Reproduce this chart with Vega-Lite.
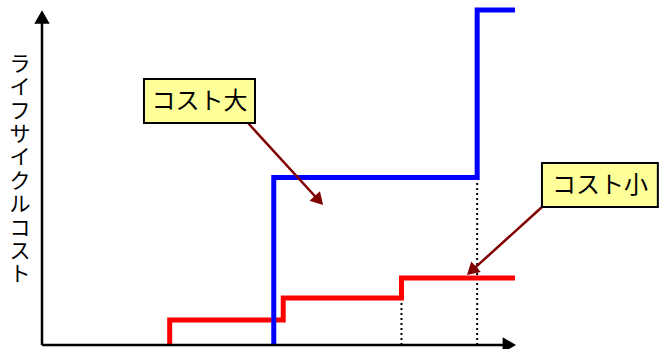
{
  "$schema": "https://vega.github.io/schema/vega-lite/v6.json",
  "width": 664,
  "height": 349,
  "padding": 0,
  "autosize": "none",
  "config": {"view": {"stroke": null}},
  "datasets": {
    "lines": [
      {"series": "コスト小", "i": 0, "t": 27, "c": 0},
      {"series": "コスト小", "i": 1, "t": 27, "c": 7.5},
      {"series": "コスト小", "i": 2, "t": 51, "c": 7.5},
      {"series": "コスト小", "i": 3, "t": 51, "c": 14},
      {"series": "コスト小", "i": 4, "t": 76, "c": 14},
      {"series": "コスト小", "i": 5, "t": 76, "c": 20},
      {"series": "コスト小", "i": 6, "t": 100, "c": 20},
      {"series": "コスト大", "i": 0, "t": 49, "c": 0},
      {"series": "コスト大", "i": 1, "t": 49, "c": 50},
      {"series": "コスト大", "i": 2, "t": 92, "c": 50},
      {"series": "コスト大", "i": 3, "t": 92, "c": 100},
      {"series": "コスト大", "i": 4, "t": 100, "c": 100}
    ],
    "dots": [
      {"t": 76, "c": 0, "c2": 13.3},
      {"t": 92, "c": 0, "c2": 49.5}
    ],
    "axes": [
      {"t": 0, "c": 0, "t2": 0, "c2": 97},
      {"t": 0, "c": 0, "t2": 98, "c2": 0}
    ],
    "axisHeads": [
      {"t": 0, "c": 97.9, "angle": 0},
      {"t": 98.8, "c": 0, "angle": 90}
    ],
    "arrows": [
      {"t": 43.55, "c": 66.27, "t2": 58.54, "c2": 43.14},
      {"t": 105.71, "c": 41.19, "t2": 90.8, "c2": 22.12}
    ],
    "arrowHeads": [
      {"t": 58.54, "c": 43.14, "angle": 137.6},
      {"t": 90.8, "c": 22.12, "angle": 227.8}
    ],
    "boxes": [
      {"label": "コスト大", "t": 21.56, "t2": 45.03, "c": 79.4, "c2": 66.27, "tx": 33.3, "ty": 72.6},
      {"label": "コスト小", "t": 105.7, "t2": 130.2, "c": 54.33, "c2": 41.19, "tx": 117.97, "ty": 47.6}
    ],
    "ylabel": [
      {"t": -4.65, "c": 86.9, "ch": "ラ"},
      {"t": -4.65, "c": 79.91, "ch": "イ"},
      {"t": -4.65, "c": 72.93, "ch": "フ"},
      {"t": -4.65, "c": 65.94, "ch": "サ"},
      {"t": -4.65, "c": 58.96, "ch": "イ"},
      {"t": -4.65, "c": 51.97, "ch": "ク"},
      {"t": -4.65, "c": 44.99, "ch": "ル"},
      {"t": -4.65, "c": 38.0, "ch": "コ"},
      {"t": -4.65, "c": 31.01, "ch": "ス"},
      {"t": -4.65, "c": 24.03, "ch": "ト"}
    ]
  },
  "layer": [
    {
      "data": {"name": "dots"},
      "mark": {"type": "rule", "color": "black", "strokeWidth": 2, "strokeDash": [2, 3]},
      "encoding": {
        "x": {"field": "t", "type": "quantitative", "axis": null, "scale": {"domain": [-8.879, 131.5], "nice": false, "zero": false}},
        "y": {"field": "c", "type": "quantitative", "axis": null, "scale": {"domain": [-1.194, 102.985], "nice": false, "zero": false}},
        "y2": {"field": "c2"}
      }
    },
    {
      "data": {"name": "lines"},
      "mark": {"type": "line", "strokeWidth": 5, "strokeJoin": "miter", "strokeCap": "butt"},
      "encoding": {
        "x": {"field": "t", "type": "quantitative", "axis": null, "scale": {"domain": [-8.879, 131.5], "nice": false, "zero": false}},
        "y": {"field": "c", "type": "quantitative", "axis": null, "scale": {"domain": [-1.194, 102.985], "nice": false, "zero": false}},
        "order": {"field": "i", "type": "quantitative"},
        "color": {"field": "series", "type": "nominal", "legend": null, "scale": {"domain": ["コスト小", "コスト大"], "range": ["#ff0000", "#0000ff"]}}
      }
    },
    {
      "data": {"name": "axes"},
      "mark": {"type": "rule", "color": "black", "strokeWidth": 2.5},
      "encoding": {
        "x": {"field": "t", "type": "quantitative", "axis": null, "scale": {"domain": [-8.879, 131.5], "nice": false, "zero": false}},
        "y": {"field": "c", "type": "quantitative", "axis": null, "scale": {"domain": [-1.194, 102.985], "nice": false, "zero": false}},
        "x2": {"field": "t2"},
        "y2": {"field": "c2"}
      }
    },
    {
      "data": {"name": "axisHeads"},
      "mark": {"type": "point", "shape": "triangle-up", "filled": true, "color": "black", "opacity": 1, "size": 240},
      "encoding": {
        "x": {"field": "t", "type": "quantitative", "axis": null, "scale": {"domain": [-8.879, 131.5], "nice": false, "zero": false}},
        "y": {"field": "c", "type": "quantitative", "axis": null, "scale": {"domain": [-1.194, 102.985], "nice": false, "zero": false}},
        "angle": {"field": "angle", "type": "quantitative", "scale": null}
      }
    },
    {
      "data": {"name": "arrows"},
      "mark": {"type": "rule", "color": "#800000", "strokeWidth": 2.5},
      "encoding": {
        "x": {"field": "t", "type": "quantitative", "axis": null, "scale": {"domain": [-8.879, 131.5], "nice": false, "zero": false}},
        "y": {"field": "c", "type": "quantitative", "axis": null, "scale": {"domain": [-1.194, 102.985], "nice": false, "zero": false}},
        "x2": {"field": "t2"},
        "y2": {"field": "c2"}
      }
    },
    {
      "data": {"name": "arrowHeads"},
      "mark": {"type": "point", "shape": "triangle-up", "filled": true, "color": "#800000", "opacity": 1, "size": 200},
      "encoding": {
        "x": {"field": "t", "type": "quantitative", "axis": null, "scale": {"domain": [-8.879, 131.5], "nice": false, "zero": false}},
        "y": {"field": "c", "type": "quantitative", "axis": null, "scale": {"domain": [-1.194, 102.985], "nice": false, "zero": false}},
        "angle": {"field": "angle", "type": "quantitative", "scale": null}
      }
    },
    {
      "data": {"name": "boxes"},
      "mark": {"type": "rect", "fill": "#ffff99", "stroke": "black", "strokeWidth": 2},
      "encoding": {
        "x": {"field": "t", "type": "quantitative", "axis": null, "scale": {"domain": [-8.879, 131.5], "nice": false, "zero": false}},
        "y": {"field": "c", "type": "quantitative", "axis": null, "scale": {"domain": [-1.194, 102.985], "nice": false, "zero": false}},
        "x2": {"field": "t2"},
        "y2": {"field": "c2"}
      }
    },
    {
      "data": {"name": "boxes"},
      "mark": {"type": "text", "font": "Noto Sans CJK JP", "fontSize": 24, "color": "black", "align": "center", "baseline": "middle"},
      "encoding": {
        "x": {"field": "tx", "type": "quantitative", "axis": null, "scale": {"domain": [-8.879, 131.5], "nice": false, "zero": false}},
        "y": {"field": "ty", "type": "quantitative", "axis": null, "scale": {"domain": [-1.194, 102.985], "nice": false, "zero": false}},
        "text": {"field": "label"}
      }
    },
    {
      "data": {"name": "ylabel"},
      "mark": {"type": "text", "font": "Noto Sans CJK JP", "fontSize": 21, "color": "black", "align": "center", "baseline": "top"},
      "encoding": {
        "x": {"field": "t", "type": "quantitative", "axis": null, "scale": {"domain": [-8.879, 131.5], "nice": false, "zero": false}},
        "y": {"field": "c", "type": "quantitative", "axis": null, "scale": {"domain": [-1.194, 102.985], "nice": false, "zero": false}},
        "text": {"field": "ch"}
      }
    }
  ]
}
